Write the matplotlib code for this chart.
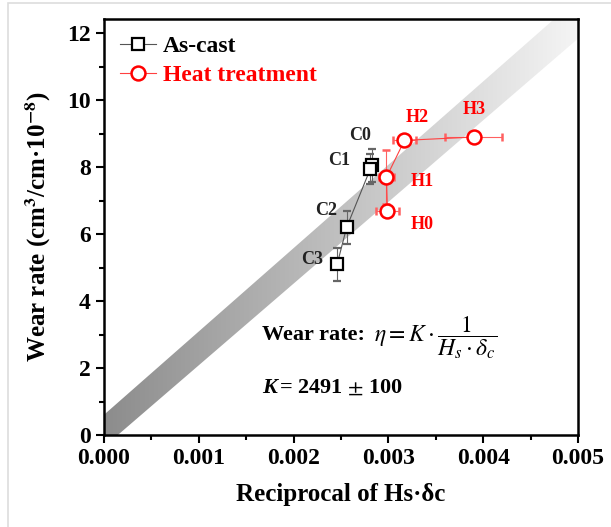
import numpy as np
import matplotlib.pyplot as plt
from matplotlib.patches import Polygon, Rectangle
from matplotlib.lines import Line2D
from matplotlib.ticker import MultipleLocator

plt.rcParams['font.family'] = ['Liberation Serif', 'DejaVu Serif']
plt.rcParams['mathtext.fontset'] = 'stix'

# as-cast samples
cast_names = ['C0', 'C1', 'C2', 'C3']
cast_x = [0.00283, 0.00281, 0.00256, 0.00246]
cast_y = [8.05, 7.95, 6.2, 5.1]
cast_xerr = [0.00004, 0.00004, 0.00004, 0.00004]
cast_yerr = [0.5, 0.45, 0.5, 0.5]

# heat treated samples
heat_names = ['H0', 'H1', 'H2', 'H3']
heat_x = [0.00299, 0.00298, 0.00317, 0.00390]
heat_y = [6.7, 7.7, 8.8, 8.9]
heat_xerr = [0.00012, 0.00008, 0.00012, 0.00030]
heat_yerr = [0.1, 0.8, 0.1, 0.1]

fig = plt.figure(figsize=(6.11, 5.27), dpi=100)
ax = fig.add_axes([0.170, 0.1746, 0.776, 0.789])
ax.set_xlim(0, 0.005)
ax.set_ylim(0, 12.42)

# fit band (K = 2491) with a gray gradient, dark near the origin
poly = Polygon([[0, -0.36], [0.005, 0.005 * 2440 - 0.36],
                [0.005, 0.005 * 2490 + 0.6], [0, 0.6]], closed=True,
               facecolor='none', edgecolor='none')
ax.add_patch(poly)
g = np.linspace(0.55, 0.96, 256)
grad = np.dstack([g, g, g]).reshape(1, -1, 3)
img = ax.imshow(grad, extent=[0, 0.005, 0, 12.42], aspect='auto',
                origin='lower', zorder=1)
img.set_clip_path(poly)

ax.errorbar(cast_x, cast_y, xerr=cast_xerr, yerr=cast_yerr, color='#555555',
            lw=0.8, marker='s', ms=8.5, mfc='white', mec='black', mew=1.6,
            ecolor='#666666', elinewidth=0.8, capsize=3, zorder=3)
ax.errorbar(heat_x, heat_y, xerr=heat_xerr, yerr=heat_yerr, color='#ff4040',
            lw=0.8, marker='o', ms=10, mfc='white', mec='red', mew=1.8,
            ecolor='#ff6060', elinewidth=0.8, capsize=3, zorder=3)

cast_lab = [(0.00259, 8.8), (0.00237, 8.05), (0.00223, 6.58), (0.00208, 5.1)]
for n, (lx, ly) in zip(cast_names, cast_lab):
    ax.text(lx, ly, n, fontsize=13, fontweight='bold', color='#222222')
heat_lab = [(0.00323, 6.15), (0.00324, 7.45), (0.00318, 9.35), (0.00378, 9.6)]
for n, (lx, ly) in zip(heat_names, heat_lab):
    ax.text(lx, ly, n, fontsize=13, fontweight='bold', color='red')

ax.text(0.00167, 2.85, 'Wear rate:', fontsize=16, fontweight='bold')
ax.text(0.00285, 2.8, r'$\eta = K\cdot\dfrac{1}{H_s\cdot\delta_c}$', fontsize=17)
ax.text(0.00167, 1.25, 'K', fontsize=16, fontweight='bold', style='italic')
ax.text(0.00185, 1.25, r'= 2491 $\pm$ 100', fontsize=16, fontweight='bold')

handles = [Line2D([], [], color='#555555', lw=0.8, marker='s', ms=8.5,
                  mfc='white', mec='black', mew=1.6),
           Line2D([], [], color='#ff4040', lw=0.8, marker='o', ms=10,
                  mfc='white', mec='red', mew=1.8)]
leg = ax.legend(handles, ['As-cast', 'Heat treatment'], loc='upper left',
                frameon=False, prop={'weight': 'bold', 'size': 17},
                handlelength=1.5, borderaxespad=0.3, labelspacing=0.3,
                handletextpad=0.3)
for t, c in zip(leg.get_texts(), ['black', 'red']):
    t.set_color(c)

ax.xaxis.set_major_locator(MultipleLocator(0.001))
ax.xaxis.set_minor_locator(MultipleLocator(0.0005))
ax.yaxis.set_major_locator(MultipleLocator(2))
ax.yaxis.set_minor_locator(MultipleLocator(1))
ax.xaxis.set_major_formatter(plt.FormatStrFormatter('%.3f'))
ax.tick_params(which='both', direction='out', width=1.5, top=False, right=False,
               labelsize=17)
ax.tick_params(which='major', length=6)
ax.tick_params(which='minor', length=3.5)
for lbl in ax.get_xticklabels() + ax.get_yticklabels():
    lbl.set_fontweight('bold')
for s in ax.spines.values():
    s.set_linewidth(1.8)

ax.set_xlabel('Reciprocal of Hs·δc', fontsize=18, fontweight='bold',
              labelpad=10)
ax.set_ylabel(r'Wear rate (cm$^\mathbf{3}$/cm·10$^\mathbf{-8}$)', fontsize=18,
              fontweight='bold', labelpad=10)

fig.patches.append(Rectangle((8 / 611, -0.01), 1.1, 1.0 - 3 / 527 + 0.01,
                             transform=fig.transFigure, fill=False,
                             edgecolor='#dddddd', lw=1.2))

fig.savefig('out.png', dpi=100)
